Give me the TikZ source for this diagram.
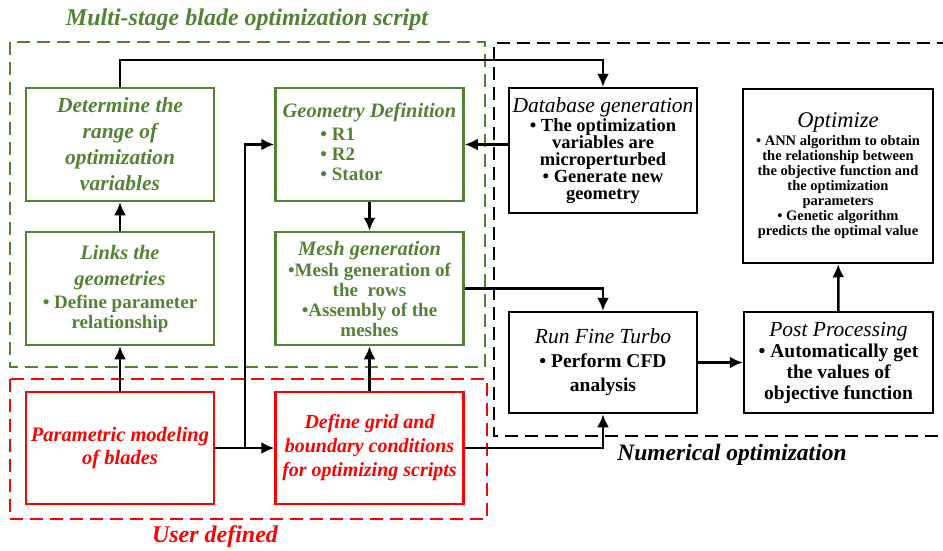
\documentclass[tikz,border=0pt]{standalone}
\usepackage{fontspec}
\setmainfont{Liberation Serif}
\usetikzlibrary{arrows.meta}
\definecolor{leafgreen}{RGB}{84,130,53}
\definecolor{brightred}{RGB}{255,0,0}
\newcommand\ghead[1]{{\fontsize{20.5}{20}\selectfont\bfseries\itshape #1}}
\newcommand\khead[1]{{\fontsize{21.5}{20}\selectfont\mdseries\itshape #1}}

\begin{document}
\begin{tikzpicture}[x=1pt, y=-1pt, >={Latex[length=13pt,width=12pt]},
    box/.style={draw, line width=2.5pt, align=center, inner sep=1pt},
    gbox/.style={box, draw=leafgreen, text=leafgreen, minimum width=188pt, minimum height=113pt},
    rbox/.style={box, draw=brightred, text=brightred, minimum width=188pt, minimum height=112pt},
    kbox/.style={box, minimum width=188pt},
    frame/.style={line width=2.5pt, dash pattern=on 13pt off 7pt},
    link/.style={line width=2.5pt, ->}]
    \useasboundingbox (0,0) rectangle (943,550);

    % Рамки групп
    \draw[frame, leafgreen] (10,42) rectangle (485,367);
    \draw[frame, brightred] (10,379) rectangle (487,519);
    \draw[frame] (950,43) -- (494,43) -- (494,436) -- (950,436);

    % Подписи групп
    \node[text=leafgreen, font=\fontsize{24}{26}\selectfont\bfseries\itshape] (gtitle) at (247,20) {Multi-stage blade optimization script};
    \node[text=brightred, font=\fontsize{24}{26}\selectfont\bfseries\itshape] (rtitle) at (215,537) {User defined};
    \node[font=\fontsize{23.5}{26}\selectfont\bfseries\itshape] (ktitle) at (732,455) {Numerical optimization};

    % Скрипт оптимизации (зелёные блоки)
    \node[gbox, font=\fontsize{21.5}{26}\selectfont\bfseries\itshape] (range) at (120,144.5)
        {Determine the\\range of\\optimization\\variables};
    \node[gbox, font=\fontsize{19}{20}\selectfont\bfseries] (geom) at (369.5,144.5)
        {\ghead{Geometry Definition}\\[4pt]
         \begin{tabular}{@{}l@{}}\textbullet\ R1\\ \textbullet\ R2\\ \textbullet\ Stator\end{tabular}\hspace*{36pt}};
    \node[gbox, font=\fontsize{19}{20}\selectfont\bfseries] (links) at (120,288.5)
        {\ghead{Links the}\\[6pt]\ghead{geometries}\\[3pt]\textbullet\ Define parameter\\relationship};
    \node[gbox, font=\fontsize{19}{20}\selectfont\bfseries] (mesh) at (369.5,288.5)
        {\ghead{Mesh generation}\\[1pt]\textbullet Mesh generation of\\the\ \ rows\\\textbullet Assembly of the\\meshes};

    % Пользовательская часть (красные блоки)
    \node[rbox, font=\fontsize{20.5}{23}\selectfont\bfseries\itshape] (param) at (120,448)
        {Parametric modeling\\of blades};
    \node[rbox, font=\fontsize{20}{24}\selectfont\bfseries\itshape] (grid) at (369.5,448)
        {Define grid and\\boundary conditions\\for optimizing scripts};

    % Численная оптимизация (чёрные блоки)
    \node[kbox, minimum height=125pt, font=\fontsize{18.5}{17}\selectfont\bfseries] (dbase) at (603,150.5)
        {\khead{Database generation}\\[1pt]\textbullet\ The optimization\\variables are\\microperturbed\\\textbullet\ Generate new\\geometry};
    \node[kbox, minimum width=190pt, minimum height=174pt, font=\fontsize{14.5}{15}\selectfont\bfseries] (optim) at (838,176)
        {{\fontsize{22.5}{20}\selectfont\mdseries\itshape Optimize}\\[3pt]
         \textbullet\ ANN algorithm to obtain\\the relationship between\\the objective function and\\the optimization\\parameters\\\textbullet\ Genetic algorithm\\predicts the optimal value};
    \node[kbox, minimum height=101pt, font=\fontsize{19.5}{24}\selectfont\bfseries] (turbo) at (603,362.5)
        {\khead{Run Fine Turbo}\\\textbullet\ Perform CFD\\analysis};
    \node[kbox, minimum width=189pt, minimum height=101pt, font=\fontsize{19.5}{21}\selectfont\bfseries] (post) at (838.5,362.5)
        {\khead{Post Processing}\\\textbullet\ Automatically get\\the values of\\objective function};

    % Связи
    \coordinate (topline) at (603,60);
    \coordinate (split) at (245,448);
    \draw[link] (range.north) |- (topline) -- (dbase.north);
    \draw[link] (links) -- (range);
    \draw[link] (param) -- (links);
    \draw[link] (grid) -- (mesh);
    \draw[link] (geom) -- (mesh);
    \draw[link] (dbase.west |- geom.east) -- (geom.east);
    \draw[link] (param.east) -- (grid.west);
    \draw[link] (split) |- (geom.west);
    \draw[link] (mesh.east) -| (turbo.north);
    \draw[link] (grid.east) -| (turbo.south);
    \draw[link] (turbo) -- (post);
    \draw[link] (post) -- (optim);
\end{tikzpicture}
\end{document}
